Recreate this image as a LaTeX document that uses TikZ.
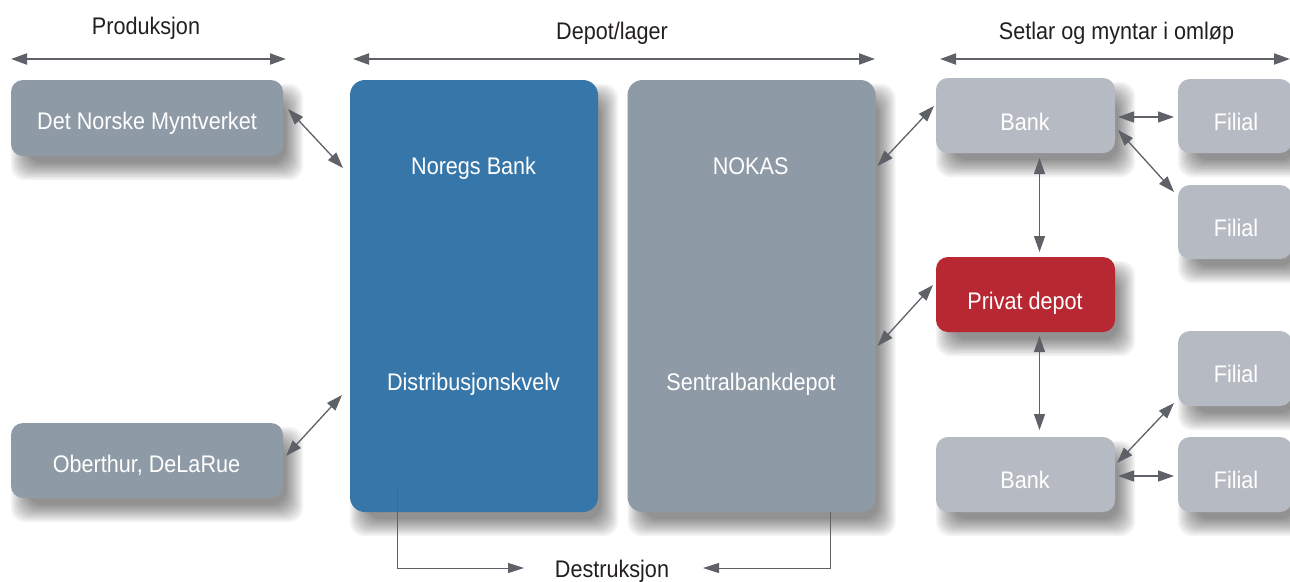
\documentclass[tikz,border=0pt]{standalone}
\usepackage{fontspec}
\setmainfont{Liberation Sans}[FakeStretch=0.9]
\usetikzlibrary{arrows.meta,calc,backgrounds}
\definecolor{nbblue}{HTML}{3776A9}
\definecolor{midgray}{HTML}{8E9AA6}
\definecolor{lightgray}{HTML}{B6BAC3}
\definecolor{privred}{HTML}{B82832}
\definecolor{arrowgray}{HTML}{5E6268}
\definecolor{titletext}{HTML}{231F20}
\begin{document}
\begin{tikzpicture}[x=1pt,y=-1pt,
  sbox/.style={draw=none, rounded corners=12pt, inner sep=0pt, outer sep=0pt},
  bigbox/.style={sbox, rounded corners=15pt, minimum width=248pt, minimum height=432pt},
  leftbox/.style={sbox, fill=midgray, minimum width=272pt, minimum height=75pt},
  bankbox/.style={sbox, minimum width=179pt, minimum height=75pt},
  filbox/.style={sbox, fill=lightgray, minimum width=114pt, minimum height=74pt},
  ttl/.style={anchor=base, text=titletext, inner sep=0pt, font=\fontsize{24}{28}\selectfont},
  btxt/.style={anchor=base, text=white, inner sep=0pt, font=\fontsize{24}{28}\selectfont},
  conn/.style={draw=arrowgray, line width=1.3pt, {Triangle[length=16pt,width=11pt]}-{Triangle[length=16pt,width=11pt]}},
  span/.style={draw=arrowgray, line width=2pt, {Triangle[length=16pt,width=11pt]}-{Triangle[length=16pt,width=11pt]}},
  dline/.style={draw=arrowgray, line width=1pt, -{Triangle[length=16pt,width=10pt]}},
  shadowlayer/.style={fill=black, opacity=0.048, rounded corners=14pt}
]
\useasboundingbox (0,0) rectangle (1290,581);

% titles
\node[ttl] (tprod) at (146,34) {Produksjon};
\node[ttl] (tdep) at (612,39) {Depot/lager};
\node[ttl] (tset) at (1116.5,39) {Setlar og myntar i omløp};

% spans
\coordinate (sp1a) at (11,59);   \coordinate (sp1b) at (286,59);
\coordinate (sp2a) at (353,59);  \coordinate (sp2b) at (875,59);
\coordinate (sp3a) at (940,59);  \coordinate (sp3b) at (1290,59);
\draw[span] (sp1a) -- (sp1b);
\draw[span] (sp2a) -- (sp2b);
\draw[span] (sp3a) -- (sp3b);

% boxes
\node[leftbox, minimum height=76pt] (myn) at (147,118) {};
\node[leftbox] (obe) at (147,460.5) {};
\node[bigbox, fill=nbblue] (nb) at (474,296) {};
\node[bigbox, fill=midgray] (nok) at (751.5,296) {};
\node[bankbox, fill=lightgray] (bank1) at (1025.5,115.5) {};
\node[filbox] (fil1) at (1235,116) {};
\node[filbox] (fil2) at (1235,222) {};
\node[bankbox, fill=privred] (priv) at (1025.5,294.5) {};
\node[filbox, minimum height=75pt] (fil3) at (1235,368.5) {};
\node[bankbox, fill=lightgray] (bank2) at (1025.5,474.5) {};
\node[filbox, minimum height=75pt] (fil4) at (1235,474.5) {};

% soft shadows
\begin{scope}[on background layer]
  \fill[white] (0,0) rectangle (1290,581);
  \foreach \n in {myn,obe,nb,nok,bank1,fil1,fil2,priv,fil3,bank2,fil4}{
    \foreach \k in {0,...,10}{
      \pgfmathsetmacro{\e}{-7+1.7*\k}
      \pgfmathsetmacro{\ax}{10-\e}
      \pgfmathsetmacro{\ay}{14-\e}
      \pgfmathsetmacro{\bx}{10+\e}
      \pgfmathsetmacro{\by}{14+\e}
      \fill[shadowlayer] ([shift={(\ax,\ay)}]\n.north west) rectangle ([shift={(\bx,\by)}]\n.south east);
    }
  }
\end{scope}

% box texts
\node[btxt] (tmyn) at (147,129) {Det Norske Myntverket};
\node[btxt] (tobe) at (146.5,472) {Oberthur, DeLaRue};
\node[btxt] (tnb) at (473.6,174) {Noregs Bank};
\node[btxt] (tdis) at (473.5,390) {Distribusjonskvelv};
\node[btxt] (tnok) at (750.6,174) {NOKAS};
\node[btxt] (tsen) at (751,390) {Sentralbankdepot};
\node[btxt] (tb1) at (1025,130) {Bank};
\node[btxt] (tf1) at (1236,130) {Filial};
\node[btxt] (tf2) at (1236,236) {Filial};
\node[btxt] (tpriv) at (1025,309) {Privat depot};
\node[btxt] (tf3) at (1236,382) {Filial};
\node[btxt] (tb2) at (1025,488) {Bank};
\node[btxt] (tf4) at (1236,488) {Filial};

% connectors
\draw[conn] ([shift={(5,29)}]myn.north east) -- ([shift={(-7,88)}]nb.north west);
\draw[conn] ([shift={(3,33)}]obe.north east) -- ([shift={(-8,315)}]nb.north west);
\draw[conn] ([shift={(2,86)}]nok.north east) -- ([shift={(-2,28)}]bank1.north west);
\draw[conn] ([shift={(2,266)}]nok.north east) -- ([shift={(-3,28)}]priv.north west);
\draw[conn] ([shift={(3,1.5)}]bank1.east) -- ([shift={(-4,1)}]fil1.west);
\draw[conn] ([shift={(3,-23)}]bank1.south east) -- ([shift={(-4,7)}]fil2.north west);
\draw[conn] ([shift={(14,5)}]bank1.south) -- ([shift={(14,-5)}]priv.north);
\draw[conn] ([shift={(14,4)}]priv.south) -- ([shift={(14,-7)}]bank2.north);
\draw[conn] ([shift={(2,26)}]bank2.north east) -- ([shift={(-4,-3)}]fil3.south west);
\draw[conn] ([shift={(3,1.5)}]bank2.east) -- ([shift={(-4,1.5)}]fil4.west);

% destruction
\node[ttl] (des) at (612,577) {Destruksjon};
\coordinate (dtipL) at (524,568);
\coordinate (dtipR) at (703,568);
\draw[dline] ([shift={(47,-24)}]nb.south west) |- (dtipL);
\draw[dline] ([xshift=78.5pt]nok.south) |- (dtipR);
\end{tikzpicture}
\end{document}
